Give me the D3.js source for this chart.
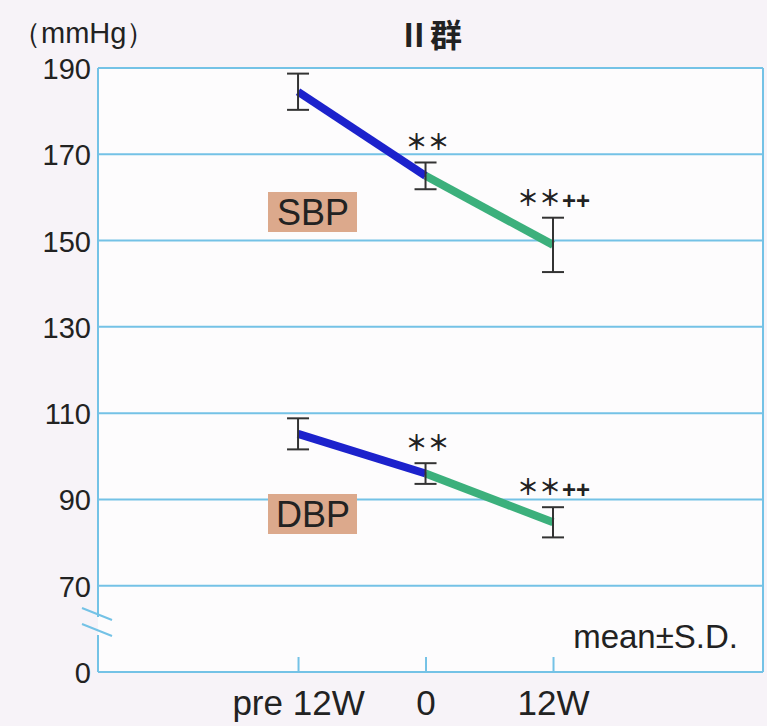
<!DOCTYPE html>
<meta charset="utf-8">
<style>
body {
  margin: 0;
  background: #f7f3f8;
}
svg text {
  font-family: "Liberation Sans", Arial, sans-serif;
  fill: #222;
}
.grid line {
  stroke: #74c2e6;
  stroke-width: 2;
}
.axis path, .axis line {
  stroke: #74c2e6;
  stroke-width: 2;
}
.errbar {
  stroke: #333;
  stroke-width: 2;
}
</style>
<body>
<svg width="767" height="726"></svg>
<script src="https://d3js.org/d3.v7.min.js"></script>
<script>
// values
var timepoints = ["pre 12W", "0", "12W"];
var sbpMean = [184.5, 165, 149];
var sbpSD = [4.2, 3.1, 6.3];
var dbpMean = [105.2, 96, 84.7];
var dbpSD = [3.6, 2.4, 3.5];
var yTicks = [50, 70, 90, 110, 130, 150, 170, 190];
var yTickLabels = ["0", "70", "90", "110", "130", "150", "170", "190"];
var sbpMarks = ["", "**", "**"];
var dbpMarks = ["", "**", "**"];
var plusMarks = ["", "", "++"];

var svg = d3.select("svg");
var plotL = 98, plotR = 763, plotT = 68, plotB = 672;

var x = d3.scaleLinear().domain([-1.569, 3.647]).range([plotL, plotR]);
var y = d3.scaleLinear().domain([50, 190]).range([plotB, plotT]);

// plot area
svg.append("rect")
    .attr("x", plotL).attr("y", plotT)
    .attr("width", plotR - plotL).attr("height", plotB - plotT)
    .attr("fill", "#fdfcfd");

// grid lines
svg.append("g").attr("class", "grid")
  .selectAll("line")
  .data(yTicks.filter(function(d) { return d > 50; }))
  .enter().append("line")
    .attr("x1", plotL).attr("x2", plotR)
    .attr("y1", function(d) { return y(d); })
    .attr("y2", function(d) { return y(d); });

// right border
svg.append("line")
    .attr("x1", plotR).attr("x2", plotR).attr("y1", plotT).attr("y2", plotB)
    .attr("stroke", "#74c2e6").attr("stroke-width", 2);

// left axis, broken between 70 and 0
var brkTop = 617, brkBot = 635;
svg.append("line")
    .attr("x1", plotL).attr("x2", plotL).attr("y1", plotT).attr("y2", brkTop)
    .attr("stroke", "#74c2e6").attr("stroke-width", 2);
svg.append("line")
    .attr("x1", plotL).attr("x2", plotL).attr("y1", brkBot).attr("y2", plotB)
    .attr("stroke", "#74c2e6").attr("stroke-width", 2);
[brkTop - 3, brkBot - 5].forEach(function(yy) {
  svg.append("line")
      .attr("x1", plotL - 16).attr("y1", yy - 6)
      .attr("x2", plotL + 14).attr("y2", yy + 6)
      .attr("stroke", "#74c2e6").attr("stroke-width", 2);
});

// y tick labels
svg.append("g")
  .selectAll("text")
  .data(yTicks)
  .enter().append("text")
    .attr("x", plotL - 7)
    .attr("y", function(d) { return y(d) + 11; })
    .attr("text-anchor", "end")
    .style("font-size", "29px")
    .text(function(d, i) { return yTickLabels[i]; });

// x axis
var xAxis = svg.append("g")
    .attr("class", "axis")
    .attr("transform", "translate(0," + plotB + ")")
    .call(d3.axisBottom(x)
      .tickValues([0, 1, 2])
      .tickSizeInner(-15)
      .tickSizeOuter(0)
      .tickFormat(function(d) { return timepoints[d]; }));
xAxis.select(".domain").attr("d", "M" + plotL + ",0H" + plotR);
xAxis.selectAll("text")
    .attr("dy", null)
    .attr("y", 43)
    .style("font-size", "35px")
    .style("font-family", "Liberation Sans, Arial, sans-serif")
    .attr("fill", "#222");

function drawSeries(mean, sd, marks) {
  var pts = mean.map(function(m, i) { return [x(i), y(m)]; });
  svg.append("line")
      .attr("x1", pts[0][0]).attr("y1", pts[0][1])
      .attr("x2", pts[1][0]).attr("y2", pts[1][1])
      .attr("stroke", "#1c22cc").attr("stroke-width", 8);
  svg.append("line")
      .attr("x1", pts[1][0]).attr("y1", pts[1][1])
      .attr("x2", pts[2][0]).attr("y2", pts[2][1])
      .attr("stroke", "#3cb07c").attr("stroke-width", 8);

  var g = svg.append("g").attr("class", "errbar");
  mean.forEach(function(m, i) {
    var cx = x(i), hi = y(m + sd[i]), lo = y(m - sd[i]);
    g.append("line").attr("x1", cx).attr("x2", cx).attr("y1", hi).attr("y2", lo);
    g.append("line").attr("x1", cx - 11).attr("x2", cx + 11).attr("y1", hi).attr("y2", hi);
    g.append("line").attr("x1", cx - 11).attr("x2", cx + 11).attr("y1", lo).attr("y2", lo);
    if (marks[i]) {
      var t = svg.append("text")
          .attr("x", cx + (plusMarks[i] ? -36 : -20))
          .attr("y", hi - 12)
          .style("font-family", "Noto Sans CJK JP")
          .style("font-weight", "bold")
          .style("font-size", "22px")
          .attr("fill", "#333");
      t.append("tspan").text(marks[i].replace(/\*/g, "＊"));
      if (plusMarks[i]) {
        t.append("tspan").attr("dy", 3).attr("dx", 1).style("font-size", "24px")
            .style("font-family", "Liberation Sans").text(plusMarks[i]);
      }
    }
  });
}
drawSeries(sbpMean, sbpSD, sbpMarks);
drawSeries(dbpMean, dbpSD, dbpMarks);

// series labels
function seriesLabel(txt, yy) {
  svg.append("rect")
      .attr("x", 268).attr("y", yy - 20)
      .attr("width", 89).attr("height", 40)
      .attr("fill", "#dca98c");
  svg.append("text")
      .attr("x", 313).attr("y", yy + 13)
      .attr("text-anchor", "middle")
      .style("font-size", "36px")
      .attr("fill", "#1a1a1a")
      .text(txt);
}
seriesLabel("SBP", 212);
seriesLabel("DBP", 514);

// unit, title, note
svg.append("text")
    .attr("x", 12).attr("y", 43)
    .style("font-size", "29px")
    .text("（mmHg）");
svg.append("text")
    .attr("x", 430).attr("y", 47)
    .attr("text-anchor", "middle")
    .style("font-family", "Noto Sans CJK JP")
    .style("font-weight", "bold")
    .style("font-size", "32px")
    .text("Ⅱ群");
svg.append("text")
    .attr("x", 738).attr("y", 648)
    .attr("text-anchor", "end")
    .style("font-size", "33px")
    .text("mean±S.D.");
</script>
</body>
